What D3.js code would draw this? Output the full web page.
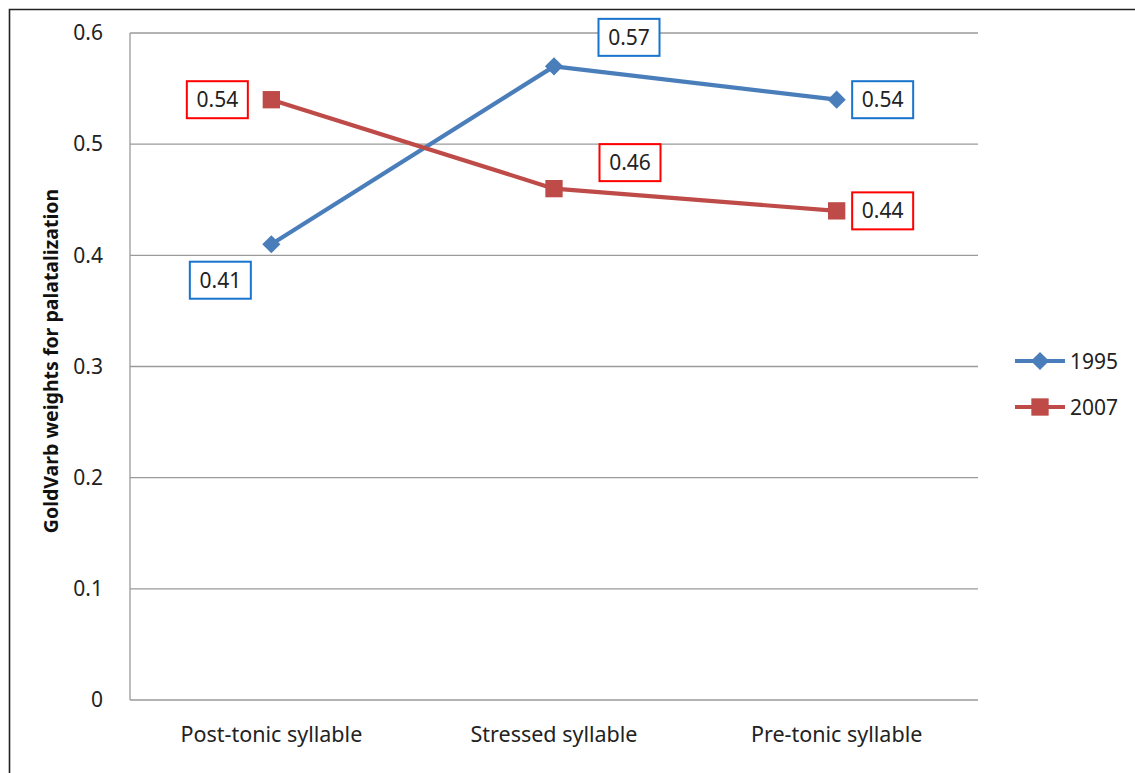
<!DOCTYPE html>
<html>
<head>
<meta charset="utf-8">
<script src="https://cdn.jsdelivr.net/npm/d3@7"></script>
<style>
  html, body { margin: 0; padding: 0; background: #fff; }
  svg { display: block; font-family: "Noto Sans", "Open Sans", sans-serif; }
</style>
</head>
<body>
<svg id="chart" width="1135" height="773"></svg>
<script>
// Syllable positions on the x axis
const categories = ["Post-tonic syllable", "Stressed syllable", "Pre-tonic syllable"];
// GoldVarb weights per survey year
const seriesNames = ["1995", "2007"];
const values1995 = [0.41, 0.57, 0.54];
const values2007 = [0.54, 0.46, 0.44];
const yTicks = [0, 0.1, 0.2, 0.3, 0.4, 0.5, 0.6];
const yTitle = "GoldVarb weights for palatalization";

// Label box placement relative to each point (center offset, px)
const labelOffsets1995 = [[-51, 36], [75, -29], [46, 0]];
const labelOffsets2007 = [[-54, 0], [76, -26], [46, 0]];

const colors = { "1995": "#4A7EBB", "2007": "#BE4B48" };
const boxColors = { "1995": "#1874CD", "2007": "#FF0000" };

const svg = d3.select("#chart");
const W = 1135, H = 773;
const plot = { left: 130, top: 33, right: 978, bottom: 700 };
const FONT = 21;

// outer frame (left and top edges visible)
svg.append("path")
  .attr("d", `M9.5,${H} L9.5,9.5 L${W},9.5`)
  .attr("fill", "none").attr("stroke", "#222").attr("stroke-width", 1.6);

const x = d3.scaleBand().domain(categories).range([plot.left, plot.right]);
const y = d3.scaleLinear().domain([0, 0.6]).range([plot.bottom, plot.top]);

// gridlines
svg.append("g").selectAll("line").data(yTicks).join("line")
  .attr("x1", plot.left).attr("x2", plot.right)
  .attr("y1", d => y(d)).attr("y2", d => y(d))
  .attr("stroke", "#9a9a9a").attr("stroke-width", 1.3);

// left axis line
svg.append("line")
  .attr("x1", plot.left).attr("x2", plot.left)
  .attr("y1", plot.top).attr("y2", plot.bottom)
  .attr("stroke", "#9a9a9a").attr("stroke-width", 1.3);

// y axis tick labels
const yAxis = d3.axisLeft(y).tickValues(yTicks).tickSize(0).tickPadding(27)
  .tickFormat(d => d === 0 ? "0" : d3.format(".1f")(d));
const gy = svg.append("g").attr("transform", `translate(${plot.left},0)`).call(yAxis);
gy.select(".domain").remove();
gy.selectAll("text").attr("font-size", FONT).attr("fill", "#222")
  .attr("font-family", "'Noto Sans', sans-serif");

// x axis labels
const xAxis = d3.axisBottom(x).tickSize(0).tickPadding(27);
const gx = svg.append("g").attr("transform", `translate(0,${plot.bottom})`).call(xAxis);
gx.select(".domain").remove();
gx.selectAll("text").attr("font-size", 21.5).attr("fill", "#222")
  .attr("font-family", "'Noto Sans', sans-serif");

// y axis title
svg.append("text")
  .attr("transform", `translate(58,361) rotate(-90)`)
  .attr("text-anchor", "middle")
  .attr("font-size", 19.5).attr("font-weight", "bold").attr("fill", "#111")
  .text(yTitle);

const cx = c => x(c) + x.bandwidth() / 2;
// diamond drawn as a square turned 45 degrees
const series = [
  { name: "1995", values: values1995, offsets: labelOffsets1995, marker: d3.symbolSquare, size: 165, rot: 45 },
  { name: "2007", values: values2007, offsets: labelOffsets2007, marker: d3.symbolSquare, size: 300, rot: 0 }
];

const line = d3.line().x(d => cx(d.c)).y(d => y(d.v));

series.forEach(s => {
  const pts = categories.map((c, i) => ({ c, v: s.values[i], off: s.offsets[i] }));
  svg.append("path").datum(pts)
    .attr("d", line).attr("fill", "none")
    .attr("stroke", colors[s.name]).attr("stroke-width", 4.2)
    .attr("stroke-linejoin", "round");
  svg.append("g").selectAll("path").data(pts).join("path")
    .attr("transform", d => `translate(${cx(d.c)},${y(d.v)}) rotate(${s.rot})`)
    .attr("d", d3.symbol().type(s.marker).size(s.size))
    .attr("fill", colors[s.name]);
});

// value labels in boxes
series.forEach(s => {
  const pts = categories.map((c, i) => ({ c, v: s.values[i], off: s.offsets[i] }));
  const g = svg.append("g").selectAll("g").data(pts).join("g")
    .attr("transform", d => `translate(${cx(d.c) + d.off[0]},${y(d.v) + d.off[1]})`);
  g.append("rect")
    .attr("x", -30.5).attr("y", -18.5).attr("width", 61).attr("height", 37)
    .attr("fill", "#fff").attr("stroke", boxColors[s.name]).attr("stroke-width", 2);
  g.append("text")
    .attr("text-anchor", "middle").attr("dy", "0.36em")
    .attr("font-size", FONT).attr("fill", "#222")
    .text(d => d3.format(".2f")(d.v));
});

// legend
const legend = svg.append("g").selectAll("g").data(series).join("g")
  .attr("transform", (d, i) => `translate(1015,${361 + i * 46})`);
legend.append("line")
  .attr("x1", 0).attr("x2", 50).attr("y1", 0).attr("y2", 0)
  .attr("stroke", d => colors[d.name]).attr("stroke-width", 4.2);
legend.append("path")
  .attr("transform", d => `translate(25,0) rotate(${d.rot})`)
  .attr("d", d => d3.symbol().type(d.marker).size(d.size)())
  .attr("fill", d => colors[d.name]);
legend.append("text")
  .attr("x", 55).attr("dy", "0.36em")
  .attr("font-size", FONT).attr("fill", "#222")
  .text(d => d.name);
</script>
</body>
</html>
